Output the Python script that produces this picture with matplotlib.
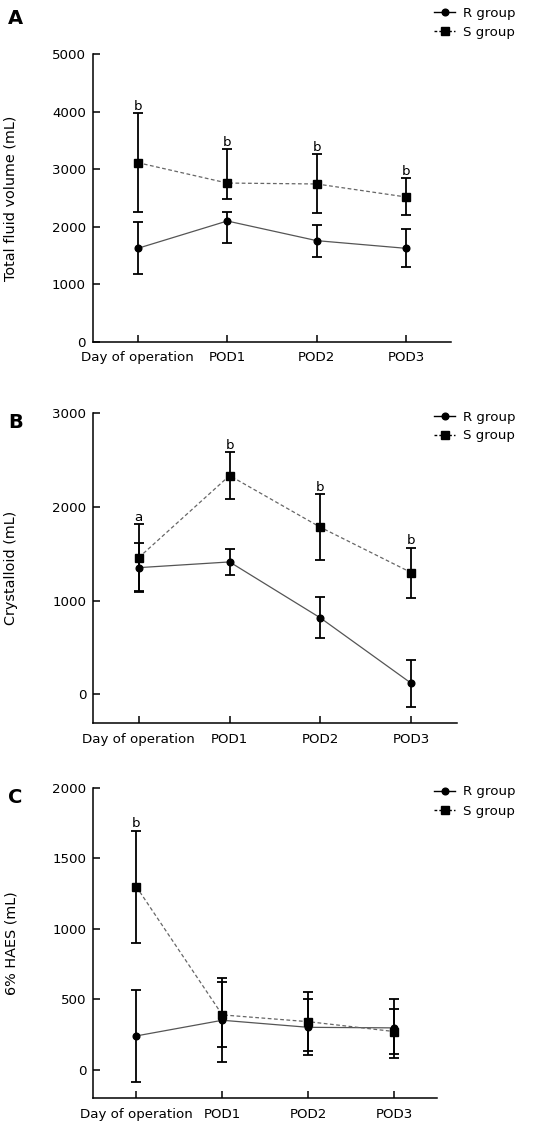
import numpy as np
import matplotlib
matplotlib.use("Agg")
import matplotlib.pyplot as plt

plt.rcParams['font.family'] = ['DejaVu Sans']

days = ["Day of operation", "POD1", "POD2", "POD3"]

# panel A - total fluid volume
a_s = [3115, 2760, 2744, 2517]
a_s_hi = [3973, 3348, 3260, 2842]
a_s_lo = [2251, 2478, 2233, 2210]
a_r = [1624, 2100, 1758, 1624]
a_r_hi = [2077, 2260, 2024, 1955]
a_r_lo = [1172, 1712, 1473, 1299]
a_sig = ["b", "b", "b", "b"]

# panel B - crystalloid
b_s = [1459, 2335, 1783, 1299]
b_s_hi = [1815, 2584, 2135, 1566]
b_s_lo = [1107, 2085, 1431, 1025]
b_r = [1352, 1413, 815, 117]
b_r_hi = [1612, 1548, 1039, 367]
b_r_lo = [1089, 1270, 598, -139]
b_sig = ["a", "b", "b", "b"]

# panel C - 6% HAES
c_s = [1299, 390, 342, 272]
c_s_hi = [1695, 626, 550, 430]
c_s_lo = [902, 161, 134, 111]
c_r = [241, 352, 302, 298]
c_r_hi = [569, 649, 503, 500]
c_r_lo = [-87, 54, 106, 87]
c_sig = ["b", "", "", ""]

W, H = 548, 1127
fig = plt.figure(figsize=(W / 100, H / 100), dpi=100)
fs = 9.6


def px(left, top, right, bottom):
    return [left / W, 1 - bottom / H, (right - left) / W, (bottom - top) / H]


panels = [
    dict(rect=px(93, 54.3, 451, 341.7), ylim=(0, 5000), ticks=np.arange(0, 5001, 1000),
         label="Total fluid volume (mL)", letter="A", leg_top=7,
         s=a_s, s_hi=a_s_hi, s_lo=a_s_lo, r=a_r, r_hi=a_r_hi, r_lo=a_r_lo, sig=a_sig),
    dict(rect=px(93.3, 413.3, 456.7, 723.3), ylim=(-310, 3000), ticks=np.arange(0, 3001, 1000),
         label="Crystalloid (mL)", letter="B", leg_top=410.5,
         s=b_s, s_hi=b_s_hi, s_lo=b_s_lo, r=b_r, r_hi=b_r_hi, r_lo=b_r_lo, sig=b_sig),
    dict(rect=px(93.3, 787.7, 437.3, 1098.3), ylim=(-201, 2000), ticks=np.arange(0, 2001, 500),
         label="6% HAES (mL)", letter="C", leg_top=785.5,
         s=c_s, s_hi=c_s_hi, s_lo=c_s_lo, r=c_r, r_hi=c_r_hi, r_lo=c_r_lo, sig=c_sig),
]

x = np.arange(len(days))

for p in panels:
    ax = fig.add_axes(p["rect"])
    s = np.array(p["s"]); r = np.array(p["r"])
    s_err = [s - np.array(p["s_lo"]), np.array(p["s_hi"]) - s]
    r_err = [r - np.array(p["r_lo"]), np.array(p["r_hi"]) - r]

    ax.plot(x, r, color="#555555", lw=0.9, ls="-", zorder=2)
    ax.plot(x, s, color="#666666", lw=0.9, ls=(0, (3, 2)), zorder=2)
    ax.errorbar(x, r, yerr=r_err, fmt="none", ecolor="black", elinewidth=1.3,
                capsize=3.8, capthick=1.3, zorder=3)
    ax.errorbar(x, s, yerr=s_err, fmt="none", ecolor="black", elinewidth=1.3,
                capsize=3.8, capthick=1.3, zorder=3)
    ax.plot(x, r, ls="none", marker="o", ms=4.8, color="black", zorder=4)
    ax.plot(x, s, ls="none", marker="s", ms=5.2, color="black", zorder=4)

    for xi, hi, t in zip(x, p["s_hi"], p["sig"]):
        if t:
            ax.annotate(t, (xi, hi), xytext=(0, 0.5), textcoords="offset points",
                        ha="center", va="bottom", fontsize=fs)

    ax.set_xlim(-0.5, 3.5)
    ax.set_ylim(*p["ylim"])
    ax.set_yticks(p["ticks"])
    ax.set_xticks(x)
    ax.set_xticklabels(days)
    for sp in ["top", "right"]:
        ax.spines[sp].set_visible(False)
    for sp in ["left", "bottom"]:
        ax.spines[sp].set_linewidth(1.1)
    ax.spines["left"].set_bounds(p["ylim"][0], p["ticks"][-1])
    ax.tick_params(direction="in", length=5, width=1.1, labelsize=fs, pad=7, colors="black")
    ax.tick_params(axis="y", pad=5)
    ax.set_ylabel(p["label"], fontsize=fs + 0.8)
    ax.yaxis.set_label_coords((18 - 93) / (p["rect"][2] * W), 0.5)

    fig.text(8 / W, 1 - (p["leg_top"] + 12) / H, p["letter"], fontsize=14,
             fontweight="bold", ha="left", va="center")

    h_r, = ax.plot([], [], color="black", lw=1.0, marker="o", ms=4.8)
    h_s, = ax.plot([], [], color="black", lw=1.0, ls=(0, (2, 1.5)), marker="s", ms=5.2)
    fig.legend([h_r, h_s], ["R group", "S group"], loc="upper right",
               bbox_to_anchor=(516 / W, 1 - p["leg_top"] / H), frameon=False,
               fontsize=fs, handlelength=1.6, handletextpad=0.6, labelspacing=0.45,
               borderpad=0, borderaxespad=0)

fig.savefig("out.png", dpi=100)
